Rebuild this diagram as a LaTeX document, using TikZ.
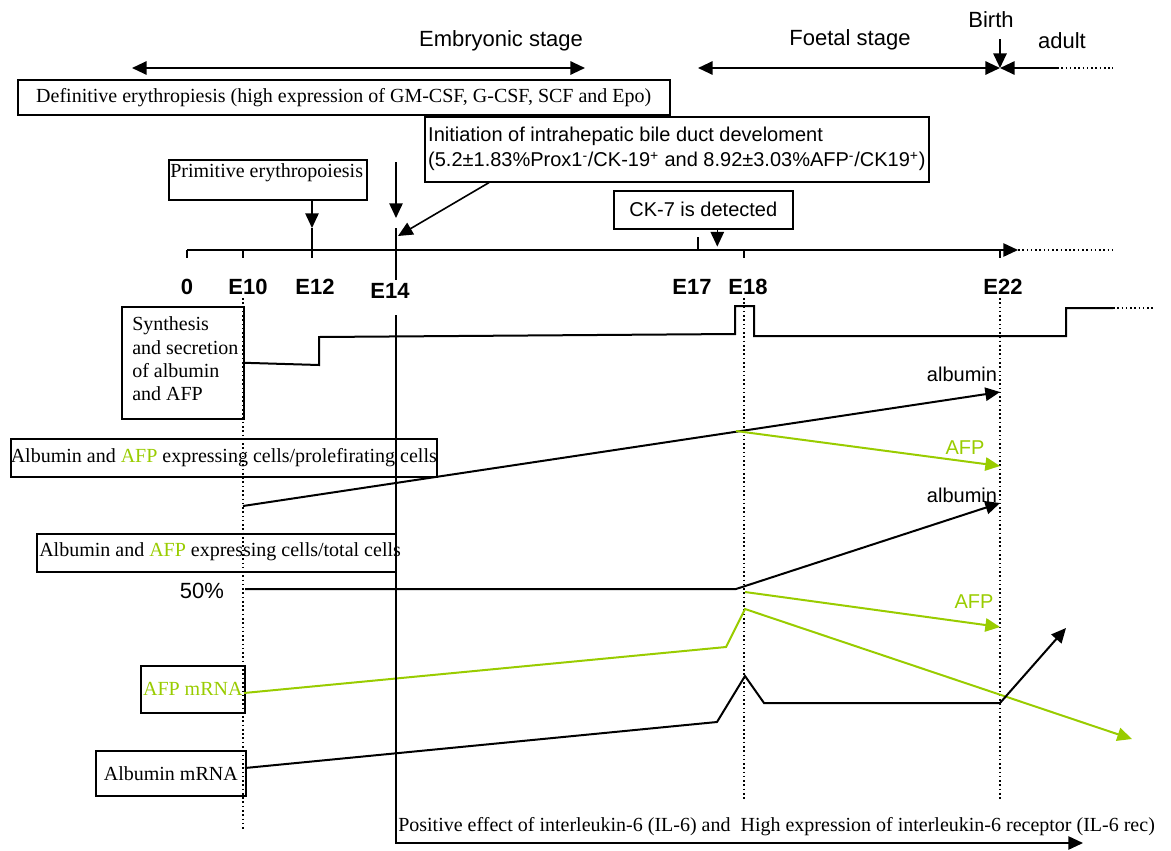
\documentclass[tikz,border=0pt]{standalone}
\usepackage{fontspec}
\setmainfont{Liberation Serif}
\setsansfont{Liberation Sans}
\usepackage{xcolor}
\usetikzlibrary{arrows.meta, positioning}
\definecolor{afpgreen}{RGB}{153,204,0}
\tikzset{
  box/.style={draw, line width=1.2pt, inner sep=0pt, anchor=north west},
  serif/.style={font=\fontsize{15}{18}\selectfont, inner sep=0pt},
  sans/.style={font=\sffamily\fontsize{15}{18}\selectfont, inner sep=0pt},
  stage/.style={font=\sffamily\fontsize{16.5}{20}\selectfont, inner sep=0pt},
  daylbl/.style={font=\sffamily\bfseries\fontsize{16.5}{20}\selectfont, inner sep=0pt},
  curve/.style={line width=1.5pt},
  tickline/.style={line width=1.2pt},
  dots/.style={line width=1.2pt, dash pattern=on 1.2pt off 2pt},
}

\begin{document}
\begin{tikzpicture}[x=0.75pt, y=-0.75pt, >={Triangle[length=11pt,width=10pt]}]
  \useasboundingbox (0,0) rectangle (1171,850);

  % stages
  \node[stage] (emb) at (501,41) {Embryonic stage};
  \node[stage] (foe) at (850,40) {Foetal stage};
  \node[stage] (bir) at (991,20) {Birth};
  \node[stage] (adl) at (1062,41) {adult};
  \coordinate (emb1) at (132,68);
  \coordinate (emb2) at (585,68);
  \coordinate (foe1) at (698,68);
  \coordinate (brt) at (1000,68);
  \coordinate (brttop) at (1000,39);
  \coordinate (adl1) at (1057,68);
  \draw[curve, <->] (emb1) -- (emb2);
  \draw[curve, <->] (foe1) -- (brt);
  \draw[curve, ->] (brttop) -- (brt);
  \draw[curve, ->] (adl1) -- (brt);
  \draw[dots] (adl1) -- ++(56,0);

  % boxes above the time axis
  \node[box, serif, minimum width=489pt, minimum height=26.25pt] (defi) at (17,79)
    {Definitive erythropiesis (high expression of GM-CSF, G-CSF, SCF and Epo)};
  \node[box, sans, align=left, minimum width=378pt, minimum height=48.75pt,
    font=\sffamily\fontsize{15}{18.75}\selectfont] (init) at (424,116)
    {Initiation of intrahepatic bile duct develoment\\
     (5.2±1.83\%Prox1\textsuperscript{-}/CK-19\textsuperscript{+} and 8.92±3.03\%AFP\textsuperscript{-}/CK19\textsuperscript{+})};
  \node[box, minimum width=148.5pt, minimum height=30pt] (prim) at (168,159) {};
  \node[serif, anchor=north west] (primt) at (170,163) {Primitive erythropoiesis};
  \node[box, sans, minimum width=134.25pt, minimum height=28.5pt] (ck7) at (613,190) {CK-7 is detected};

  % time axis
  \foreach \d/\x in {0/187, 10/243, 12/312, 14/396, 17/698, 18/744, 22/1000}
    \coordinate (t\d) at (\x,250);
  \foreach \d/\x/\y/\t in {0/187/287/0, 10/248/287/E10, 12/315/287/E12, 14/390/291/E14,
                          17/692/287/E17, 18/748/287/E18, 22/1003/287/E22}
    \node[daylbl] (d\d) at (\x,\y) {\t};
  \coordinate (axend) at (1018,250);
  \draw[tickline, ->] (t0) -- (axend);
  \draw[dots] (axend) -- ++(94,0);
  \foreach \d in {0,10,18,22}
    \draw[tickline] (t\d) -- ++(0,8);
  \draw[tickline] (t17) -- ++(0,-13);

  % events pointing onto the axis
  \coordinate (e12a) at (312,228);
  \draw[tickline, ->] (prim.south -| e12a) -- (e12a);
  \draw[tickline] (e12a) -- (312,258);
  \coordinate (e14top) at (396,162);
  \coordinate (e14a) at (396,218);
  \coordinate (e14b) at (396,228);
  \coordinate (e14hit) at (398,236);
  \draw[tickline, ->] (e14top) -- (e14a);
  \draw[tickline] (e14b) -- (396,280);
  \draw[tickline, ->] (init.south west) ++(65,0) -- (e14hit);
  \draw[tickline, ->] (ck7.south) ++(14,0) -- ++(0,17);

  % day markers
  \draw[dots] (t10) ++(0,48) -- ++(0,532);
  \draw[dots] (t18) ++(0,48) -- ++(0,502);
  \draw[dots] (t22) ++(0,48) -- ++(0,502);

  % synthesis and secretion
  \node[box, minimum width=91.5pt, minimum height=84pt] (syn) at (121,306) {};
  \node[serif, anchor=west, align=left, font=\fontsize{15}{17.5}\selectfont] (synt) at (132,359)
    {Synthesis\\and secretion\\of albumin\\and AFP};
  \draw[curve] (syn.east) -- (319,365) -- (319,337) -- (735,334) -- (735,306) -- (754,306)
    -- (754,336) -- (1066,336) -- (1066,308) -- (1113,308) coordinate (synend);
  \draw[dots] (synend) -- ++(42,0);

  % proliferating cells
  \node[box, serif, minimum width=318.75pt, minimum height=28.5pt] (prol) at (10,438)
    {Albumin and \textcolor{afpgreen}{AFP} expressing cells/prolefirating cells};
  \draw[curve, ->] (243,506) -- (1000,392);
  \draw[curve, afpgreen, ->] (736,431) -- (1000,466);
  \node[sans] (alb1) at (962,374) {albumin};
  \node[sans, text=afpgreen] (afp1) at (965,448) {AFP};

  % total cells
  \node[box, minimum width=269.25pt, minimum height=28.5pt] (tot) at (36,533) {};
  \node[serif, anchor=west] (tott) at (39,552)
    {Albumin and \textcolor{afpgreen}{AFP} expressing cells/total cells};
  \node[stage] (half) at (202,591) {50\%};
  \draw[curve, ->] (245,589) -- (736,589) -- (1000,503);
  \draw[curve, afpgreen, ->] (745,592) -- (1000,627);
  \node[sans] (alb2) at (962,495) {albumin};
  \node[sans, text=afpgreen] (afp2) at (974,602) {AFP};

  % mRNA levels
  \node[box, serif, text=afpgreen, minimum width=78pt, minimum height=35.25pt] (afpm) at (140,665) {AFP mRNA};
  \node[box, serif, minimum width=112.5pt, minimum height=33.75pt] (albm) at (95,750) {Albumin mRNA};
  \draw[curve, afpgreen, ->] (244,693) -- (726,647) -- (745,609) -- (1132,739);
  \draw[curve, ->] (245,768) -- (717,722) -- (745,676) -- (764,703) -- (1000,703) -- (1066,628);

  % interleukin-6
  \draw[tickline, ->] (396,315) -- (396,843) -- (1083,843);
  \node[serif, anchor=base west] (il6) at (398,831)
    {Positive effect of interleukin-6 (IL-6) and\ \ High expression of interleukin-6 receptor (IL-6 rec)};
\end{tikzpicture}
\end{document}
